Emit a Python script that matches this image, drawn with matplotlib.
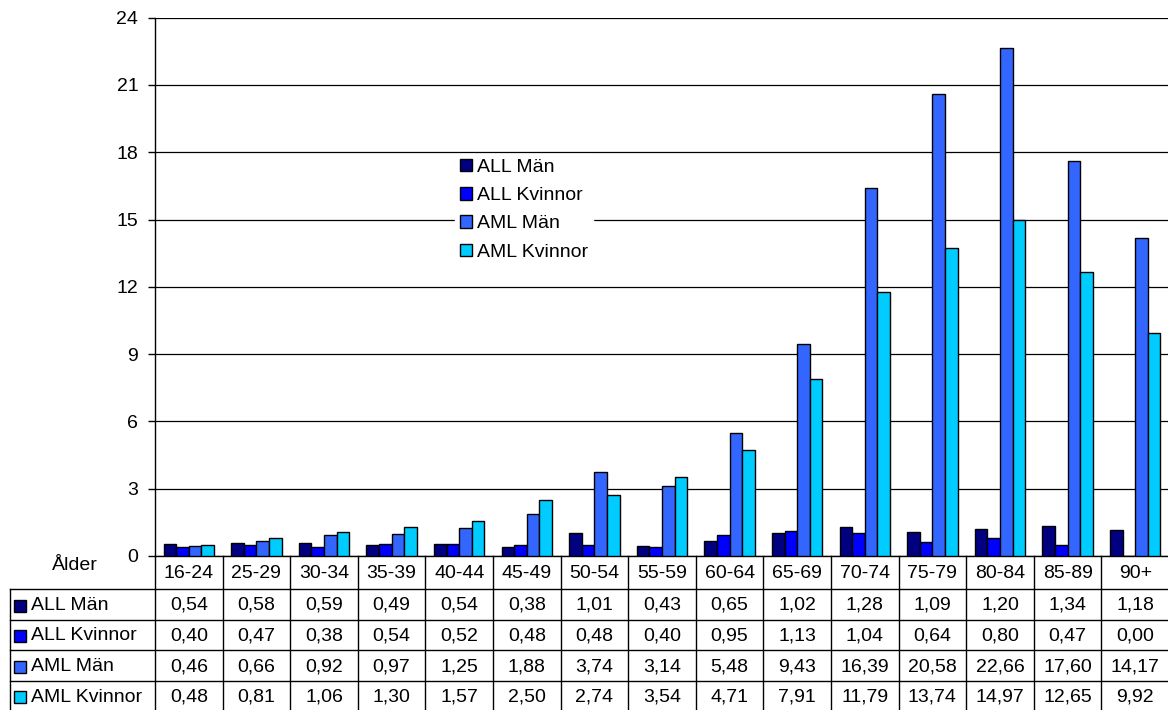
import matplotlib.pyplot as plt
from matplotlib.patches import Patch, Rectangle

plt.rcParams['font.family'] = ['Liberation Sans', 'DejaVu Sans']

# Incidence per age group
age_groups = ["16-24", "25-29", "30-34", "35-39", "40-44", "45-49", "50-54", "55-59",
              "60-64", "65-69", "70-74", "75-79", "80-84", "85-89", "90+"]
series_names = ["ALL Män", "ALL Kvinnor", "AML Män", "AML Kvinnor"]
all_man = [0.54, 0.58, 0.59, 0.49, 0.54, 0.38, 1.01, 0.43, 0.65, 1.02, 1.28, 1.09, 1.20, 1.34, 1.18]
all_kvinnor = [0.40, 0.47, 0.38, 0.54, 0.52, 0.48, 0.48, 0.40, 0.95, 1.13, 1.04, 0.64, 0.80, 0.47, 0.00]
aml_man = [0.46, 0.66, 0.92, 0.97, 1.25, 1.88, 3.74, 3.14, 5.48, 9.43, 16.39, 20.58, 22.66, 17.60, 14.17]
aml_kvinnor = [0.48, 0.81, 1.06, 1.30, 1.57, 2.50, 2.74, 3.54, 4.71, 7.91, 11.79, 13.74, 14.97, 12.65, 9.92]
series = [all_man, all_kvinnor, aml_man, aml_kvinnor]
colors = ["#000080", "#0000FF", "#3366FF", "#00CCFF"]
y_ticks = [0, 3, 6, 9, 12, 15, 18, 21, 24]

W, H = 1168, 710
fig = plt.figure(figsize=(W / 100, H / 100), dpi=100)
fs = 14

# plot area in pixels
x0, x1 = 155, 1169
y_top, y_zero = 17.6, 556

ax = fig.add_axes([x0 / W, 1 - y_zero / H, (x1 - x0) / W, (y_zero - y_top) / H])
n = len(age_groups)
bw = 0.187
for i, (vals, col) in enumerate(zip(series, colors)):
    xs = [k + (i - 1.5) * bw for k in range(n)]
    ax.bar(xs, vals, width=bw, color=col, edgecolor="black", linewidth=1, zorder=3)

ax.set_xlim(-0.5, n - 0.5)
ax.set_ylim(0, 24)
ax.set_yticks(y_ticks)
ax.set_yticklabels([str(t) for t in y_ticks], fontsize=fs)
ax.tick_params(axis="y", direction="out", length=5, width=1, pad=7)
ax.tick_params(axis="x", length=0, labelbottom=False)
ax.grid(axis="y", color="black", linewidth=0.9, zorder=1)
for s in ["top", "right"]:
    ax.spines[s].set_visible(False)
ax.spines["left"].set_linewidth(1)
ax.spines["bottom"].set_linewidth(1)

handles = [Patch(facecolor=c, edgecolor="black", linewidth=1) for c in colors]
leg = ax.legend(handles, series_names, loc="upper left",
                bbox_to_anchor=(455 / W, 1 - 154 / H), bbox_transform=fig.transFigure,
                fontsize=fs, frameon=True, fancybox=False, framealpha=1,
                handlelength=0.62, handleheight=0.62, handletextpad=0.25,
                labelspacing=0.57, borderpad=0.25, borderaxespad=0)
leg.get_frame().set_edgecolor("white")
leg.set_zorder(5)

# data table below the chart, x in category units, y in pixels
tx0 = 10
lab_w = (x0 - tx0) / ((x1 - x0) / n)
tab = fig.add_axes([tx0 / W, 0, (x1 - tx0) / W, 1 - y_zero / H])
tab.set_xlim(-0.5 - lab_w, n - 0.5)
tab.set_ylim(H, y_zero)
tab.axis("off")

row_edges = [556, 589, 620, 650, 681, 711]
left = -0.5 - lab_w
right = n - 0.5
lc = dict(color="black", linewidth=1, clip_on=False)

# header row with age groups
for k in range(n + 1):
    tab.plot([k - 0.5, k - 0.5], [row_edges[0], row_edges[1]], **lc)
for k, g in enumerate(age_groups):
    tab.text(k, (row_edges[0] + row_edges[1]) / 2 + 1, g, ha="center", va="center", fontsize=fs)
tab.text(left + 65 / ((x1 - x0) / n), 566, "Ålder", ha="center", va="center", fontsize=fs)

# value rows
for r in range(1, len(row_edges)):
    tab.plot([left, right], [row_edges[r], row_edges[r]], **lc)
tab.plot([left, left], [row_edges[1], row_edges[-1]], **lc)
for k in range(n + 1):
    tab.plot([k - 0.5, k - 0.5], [row_edges[1], row_edges[-1]], **lc)

px = (x1 - x0) / n  # pixels per category unit
for r, (name, vals, col) in enumerate(zip(series_names, series, colors)):
    yc = (row_edges[r + 1] + row_edges[r + 2]) / 2 + 1
    tab.add_patch(Rectangle((left + 4 / px, yc - 6), 12 / px, 12,
                            facecolor=col, edgecolor="black", linewidth=1, clip_on=False))
    tab.text(left + 21 / px, yc, name, ha="left", va="center", fontsize=fs)
    for k, v in enumerate(vals):
        tab.text(k, yc, f"{v:.2f}".replace(".", ","), ha="center", va="center", fontsize=fs)

fig.savefig("out.png", dpi=100)
